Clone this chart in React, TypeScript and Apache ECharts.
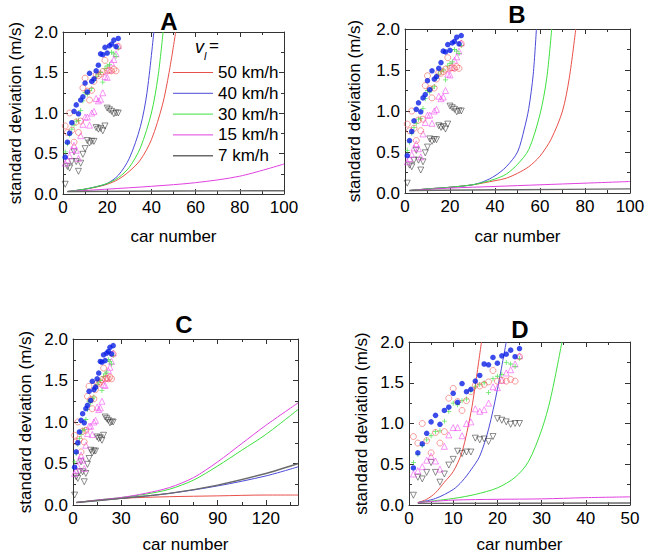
import React, { useEffect, useRef } from "react";
import * as echarts from "echarts";

// ---- observed data (car number 1..25) ----
const carNumbers = [1, 2, 3, 4, 5, 6, 7, 8, 9, 10, 11, 12, 13, 14, 15, 16, 17, 18, 19, 20, 21, 22, 23, 24, 25];
const obs40 = [0.455, 0.64, 0.75, 0.88, 1.02, 1.1, 0.99, 1.16, 1.2, 1.37, 1.26, 1.49, 1.39, 1.42, 1.52, 1.59, 1.73, 1.72, 1.81, 1.74, 1.83, 1.85, 1.9, 1.82, 1.92];
const obs50 = [0.84, 0.76, 1.0, 0.79, 0.64, 0.89, 0.76, 0.9, 1.31, 1.43, 1.27, 1.16, 1.28, 1.39, 1.47, 1.46, 1.48, 1.51, 1.65, 1.52, 1.53, 1.52, 1.54, 1.52, 1.82];
const obs30 = [0.52, 0.62, 0.73, 0.8, 0.85, 0.9, 0.91, 1.03, 1.15, 1.25, 1.23, 1.28, 1.3, 1.4, 1.45, 1.48, 1.5, 1.38, 1.55, 1.58, 1.6, 1.75, 1.73, 1.7, 1.8];
const obs15 = [0.38, 0.42, 0.47, 0.55, 0.6, 0.54, 0.44, 0.72, 0.86, 0.95, 0.95, 0.85, 1.0, 1.02, 1.18, 1.15, 1.17, 1.25, 1.45, 1.44, 1.53, 1.62, 1.66, 1.73, 1.83];
const obs7 = [0.12, 0.34, 0.32, 0.4, 0.52, 0.4, 0.28, 0.38, 0.49, 0.56, 0.66, 0.63, 0.65, 0.65, 0.82, 0.8, 0.81, 0.78, 0.84, 1.06, 1.04, 1.02, 0.99, 1.0, 1.0];

// ---- model curves, panel A ----
const aX50 = [2, 10, 15, 20, 25, 30, 35, 40, 45, 48, 51];
const aY50 = [0.03, 0.06, 0.085, 0.12, 0.18, 0.28, 0.42, 0.67, 1.1, 1.5, 2.0];
const aX40 = [2, 10, 15, 20, 25, 30, 35, 38, 41.1];
const aY40 = [0.03, 0.06, 0.09, 0.13, 0.23, 0.44, 0.83, 1.25, 2.0];
const aX30 = [2, 10, 15, 20, 25, 30, 35, 40, 43, 45.3];
const aY30 = [0.03, 0.06, 0.09, 0.13, 0.2, 0.33, 0.57, 1.0, 1.45, 2.0];
const aX15 = [2, 20, 40, 60, 80, 100];
const aY15 = [0.03, 0.06, 0.095, 0.14, 0.22, 0.37];
const aX7 = [2, 50, 100];
const aY7 = [0.03, 0.037, 0.04];

// ---- model curves, panel B ----
const bX50 = [2, 10, 20, 30, 40, 45, 50, 55, 60, 65, 70, 73, 75.9];
const bY50 = [0.03, 0.05, 0.07, 0.1, 0.15, 0.18, 0.24, 0.32, 0.45, 0.66, 1.0, 1.4, 2.0];
const bX40 = [2, 10, 20, 30, 35, 40, 45, 50, 53, 55, 57, 58.4];
const bY40 = [0.03, 0.05, 0.07, 0.1, 0.14, 0.21, 0.32, 0.5, 0.78, 1.03, 1.45, 2.0];
const bX30 = [2, 10, 20, 30, 35, 40, 45, 50, 55, 60, 63, 65.2];
const bY30 = [0.03, 0.05, 0.07, 0.1, 0.13, 0.17, 0.23, 0.35, 0.53, 0.96, 1.4, 2.0];
const bX15 = [2, 20, 40, 60, 80, 100];
const bY15 = [0.03, 0.06, 0.08, 0.1, 0.12, 0.14];
const bX7 = [2, 50, 100];
const bY7 = [0.03, 0.04, 0.05];

// ---- model curves, panel C ----
const cX50 = [2, 30, 60, 90, 120, 140];
const cY50 = [0.03, 0.08, 0.1, 0.11, 0.12, 0.12];
const cX40 = [2, 30, 60, 90, 120, 140];
const cY40 = [0.03, 0.08, 0.14, 0.23, 0.35, 0.46];
const cX30 = [2, 15, 30, 45, 60, 75, 90, 105, 120, 140];
const cY30 = [0.03, 0.06, 0.09, 0.13, 0.19, 0.3, 0.47, 0.66, 0.85, 1.15];
const cX15 = [2, 15, 30, 45, 60, 75, 90, 105, 120, 140];
const cY15 = [0.03, 0.06, 0.09, 0.14, 0.21, 0.33, 0.52, 0.74, 0.96, 1.23];
const cX7 = [2, 30, 60, 90, 120, 140];
const cY7 = [0.03, 0.08, 0.14, 0.24, 0.38, 0.5];

// ---- model curves, panel D ----
const dX50 = [2, 4, 6, 8, 10, 12, 14, 15, 16.4];
const dY50 = [0.03, 0.07, 0.15, 0.28, 0.41, 0.65, 1.13, 1.47, 2.0];
const dX40 = [2, 6, 10, 12, 14, 16, 18, 20, 22];
const dY40 = [0.03, 0.08, 0.19, 0.29, 0.43, 0.6, 0.93, 1.42, 2.0];
const dX30 = [2, 10, 15, 20, 24, 27, 30, 32, 34.6];
const dY30 = [0.03, 0.08, 0.13, 0.21, 0.34, 0.53, 0.92, 1.3, 2.0];
const dX15 = [2, 10, 20, 30, 40, 50];
const dY15 = [0.03, 0.06, 0.07, 0.075, 0.09, 0.1];
const dX7 = [2, 50];
const dY7 = [0.02, 0.025];

const speedNames = ["50 km/h", "40 km/h", "30 km/h", "15 km/h", "7 km/h"];
const panelTitles = ["A", "B", "C", "D"];
const xMaxes = [100, 100, 140, 50];
const xIntervals = [20, 20, 30, 10];
const yTicks = { min: 0, max: 2, interval: 0.5 };

const lineColors = ["#e8504a", "#4a4ad8", "#3ee03e", "#e040e0", "#6a6a6a"];

const FONT = "Liberation Sans, Arial, sans-serif";

const zip = (xs: number[], ys: number[]) => xs.map((x, i) => [x, ys[i]]);

export default function App() {
  const ref = useRef<HTMLDivElement>(null);
  useEffect(() => {
    if (!ref.current) return;
    const chart = echarts.init(ref.current, undefined, { renderer: "svg" });

    const grids = [
      { left: 63, top: 32, width: 221, height: 162 },
      { left: 405, top: 29, width: 225, height: 164 },
      { left: 73, top: 339, width: 225, height: 166 },
      { left: 409, top: 342, width: 221, height: 163 },
    ];
    const yNameGaps = [39, 42, 39, 39];
    const xNameGaps = [34, 35, 31, 31];

    const curves = [
      [zip(aX50, aY50), zip(aX40, aY40), zip(aX30, aY30), zip(aX15, aY15), zip(aX7, aY7)],
      [zip(bX50, bY50), zip(bX40, bY40), zip(bX30, bY30), zip(bX15, bY15), zip(bX7, bY7)],
      [zip(cX50, cY50), zip(cX40, cY40), zip(cX30, cY30), zip(cX15, cY15), zip(cX7, cY7)],
      [zip(dX50, dY50), zip(dX40, dY40), zip(dX30, dY30), zip(dX15, dY15), zip(dX7, dY7)],
    ];

    const axisLine = { show: true, onZero: false, lineStyle: { color: "#333", width: 1 } };
    const tick = { show: true, inside: true, length: 5, lineStyle: { color: "#333" } };
    const minor = { show: true, splitNumber: 2, length: 3, lineStyle: { color: "#333" } };
    const label = { fontSize: 17, color: "#000", fontFamily: FONT, margin: 5 };

    const xAxis: any[] = [];
    const yAxis: any[] = [];
    grids.forEach((_, i) => {
      const xBase = {
        type: "value",
        gridIndex: i,
        min: 0,
        max: xMaxes[i],
        interval: xIntervals[i],
        splitLine: { show: false },
        axisLine,
        axisTick: tick,
        minorTick: minor,
      };
      xAxis.push({
        ...xBase,
        position: "bottom",
        axisLabel: { ...label, showMaxLabel: i !== 2 },
        name: "car number",
        nameLocation: "middle",
        nameGap: xNameGaps[i],
        nameTextStyle: { fontSize: 17, color: "#000", fontFamily: FONT },
      });
      xAxis.push({ ...xBase, position: "top", axisLabel: { show: false } });
      const yBase = {
        type: "value",
        gridIndex: i,
        ...yTicks,
        splitLine: { show: false },
        axisLine,
        axisTick: tick,
        minorTick: minor,
      };
      yAxis.push({
        ...yBase,
        position: "left",
        axisLabel: { ...label, formatter: (v: number) => v.toFixed(1) },
        name: "standard deviation (m/s)",
        nameLocation: "middle",
        nameGap: yNameGaps[i],
        nameTextStyle: { fontSize: 17, color: "#000", fontFamily: FONT },
      });
      yAxis.push({ ...yBase, position: "right", axisLabel: { show: false } });
    });

    const plusPath = "path://M-1,-0.16H1V0.16H-1Z M-0.16,-1H0.16V1H-0.16Z";
    const series: any[] = [];
    grids.forEach((_, i) => {
      curves[i].forEach((pts, k) => {
        series.push({
          type: "line",
          name: speedNames[k],
          xAxisIndex: 2 * i,
          yAxisIndex: 2 * i,
          data: pts,
          smooth: 0.3,
          symbol: "none",
          clip: true,
          lineStyle: { color: lineColors[k], width: k === 4 ? 1.4 : 1 },
          itemStyle: { color: lineColors[k] },
          z: 2,
        });
      });
      const common = { type: "scatter", xAxisIndex: 2 * i, yAxisIndex: 2 * i, z: 3 };
      series.push({
        ...common,
        name: "obs7",
        data: zip(carNumbers, obs7),
        symbol: "triangle",
        symbolRotate: 180,
        symbolSize: 6,
        itemStyle: { color: "transparent", borderColor: "#333", borderWidth: 0.7 },
      });
      series.push({
        ...common,
        name: "obs15",
        data: zip(carNumbers, obs15),
        symbol: "triangle",
        symbolSize: 6,
        itemStyle: { color: "transparent", borderColor: "#f040f0", borderWidth: 0.7 },
      });
      series.push({
        ...common,
        name: "obs30",
        data: zip(carNumbers, obs30),
        symbol: plusPath,
        symbolSize: 5,
        itemStyle: { color: "#3ee03e" },
      });
      series.push({
        ...common,
        name: "obs50",
        data: zip(carNumbers, obs50),
        symbol: "circle",
        symbolSize: 6,
        itemStyle: { color: "transparent", borderColor: "#f05050", borderWidth: 0.7 },
      });
      series.push({
        ...common,
        name: "obs40",
        data: zip(carNumbers, obs40),
        symbol: "circle",
        symbolSize: 5.5,
        itemStyle: { color: "#0a1fe6" },
      });
    });

    const titlePos = [
      [169, 21],
      [517, 14],
      [184, 324],
      [520, 329],
    ];

    const legendTop = 72.5;
    const legendStep = 20.8;
    const legendItems: any[] = [];
    speedNames.forEach((n, k) => {
      const y = legendTop + k * legendStep;
      legendItems.push({
        type: "line",
        shape: { x1: 173, y1: y, x2: 213, y2: y },
        style: { stroke: lineColors[k], lineWidth: k === 4 ? 1.6 : 1 },
      });
      legendItems.push({
        type: "text",
        x: 218,
        y,
        style: {
          text: n,
          font: `17px ${FONT}`,
          fill: "#000",
          textVerticalAlign: "middle",
        },
      });
    });

    chart.setOption({
      animation: false,
      backgroundColor: "#fff",
      grid: grids,
      xAxis,
      yAxis,
      series,
      graphic: [
        ...panelTitles.map((t, i) => ({
          type: "text",
          x: titlePos[i][0],
          y: titlePos[i][1],
          style: {
            text: t,
            font: `bold 24px ${FONT}`,
            fill: "#000",
            textAlign: "center",
            textVerticalAlign: "middle",
          },
        })),
        ...legendItems,
        {
          type: "text",
          x: 195,
          y: 38,
          style: { text: "v", font: `italic 18px ${FONT}`, fill: "#000" },
        },
        {
          type: "text",
          x: 204,
          y: 50,
          style: { text: "l", font: `italic 11px ${FONT}`, fill: "#000" },
        },
        {
          type: "text",
          x: 209,
          y: 37,
          style: { text: "=", font: `17px ${FONT}`, fill: "#000" },
        },
      ],
    });
    return () => chart.dispose();
  }, []);
  return (
    <div
      ref={ref}
      style={{ position: "absolute", left: 0, top: 0, width: 648, height: 556 }}
    />
  );
}
